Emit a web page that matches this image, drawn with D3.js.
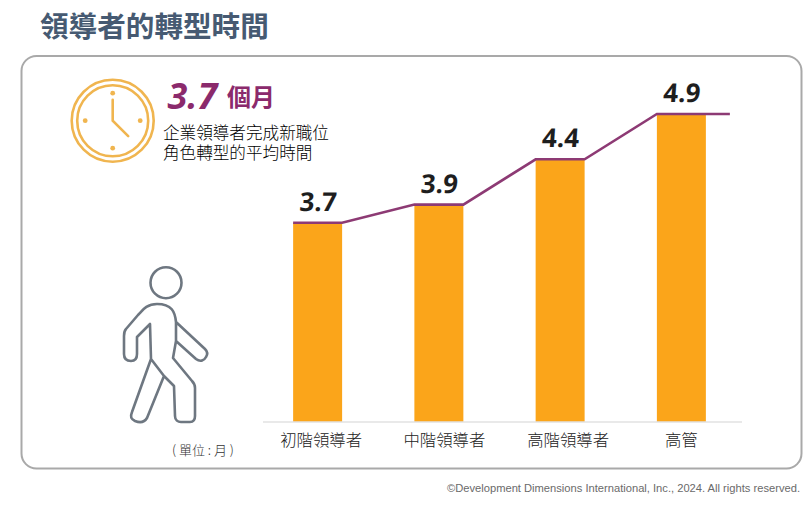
<!doctype html>
<html>
<head>
<meta charset="utf-8"/>
<title>領導者的轉型時間</title>
<script src="https://d3js.org/d3.v7.min.js"></script>
<style>
html, body { margin: 0; padding: 0; background: #fff; }
svg { display: block; }
text { font-family: "Noto Sans CJK TC", "Noto Sans", sans-serif; }
</style>
</head>
<body>
<svg id="svg1" width="812" height="508"></svg>
<script>
const categories = ['初階領導者', '中階領導者', '高階領導者', '高管'];
const values = [3.7, 3.9, 4.4, 4.9];
const desc_lines = ['企業領導者完成新職位', '角色轉型的平均時間'];

const bar_color = '#fba51a';
const line_color = '#8d3a74';
const clock_color = '#f0b54f';
const walker_color = '#6e7781';

const svg = d3.select('#svg1');

function add_text(x, y, str, size, color, weight = 400, anchor = 'start') {
    return svg.append('text')
        .attr('x', x)
        .attr('y', y)
        .attr('text-anchor', anchor)
        .style('font-size', size + 'px')
        .style('font-weight', weight)
        .style('fill', color)
        .text(str);
}

// title and frame
add_text(40, 37, '領導者的轉型時間', 28.6, '#465a72', 700);
svg.append('rect')
    .attr('x', 21.5).attr('y', 56)
    .attr('width', 780).attr('height', 412.5)
    .attr('rx', 15)
    .style('fill', '#fff')
    .style('stroke', '#a9a9a9')
    .style('stroke-width', 2);

// y domain does not start at zero, the original bars are cut off
const x = d3.scaleBand().domain(categories).range([257, 742]).paddingInner(0.596).paddingOuter(0.298);
const y = d3.scaleLinear().domain([1.5, 4.9]).range([422, 114]);

svg.selectAll('rect.bar')
    .data(values)
    .enter().append('rect')
    .attr('class', 'bar')
    .attr('x', (d, i) => x(categories[i]))
    .attr('y', d => y(d))
    .attr('width', x.bandwidth())
    .attr('height', d => y.range()[0] - y(d))
    .style('fill', bar_color);

// axis with the baseline and the category labels
const axis = svg.append('g')
    .attr('transform', 'translate(0,' + y.range()[0] + ')')
    .call(d3.axisBottom(x).tickSize(0).tickPadding(12));
axis.select('.domain')
    .attr('d', 'M263,0H742')   // baseline starts a bit right of the band range, by eye
    .style('stroke', '#e2e2e2')
    .style('stroke-width', 1.5);
// the labels are not quite centred under the bars in the original
const label_nudge = [3.5, 5.5, 8, 0];
axis.selectAll('text')
    .attr('dx', (d, i) => label_nudge[i])
    .style('font-size', '16.4px')
    .style('font-weight', 300)
    .style('fill', '#222');

// trend line runs flat over each bar, then on to the next one
const trend = [];
values.forEach((d, i) => {
    trend.push([x(categories[i]), y(d)]);
    trend.push([x(categories[i]) + x.bandwidth(), y(d)]);
});
trend[trend.length - 1][0] += 24;   // tail after the last bar
svg.append('path')
    .attr('d', d3.line()(trend))
    .style('fill', 'none')
    .style('stroke', line_color)
    .style('stroke-width', 2.6);

svg.selectAll('text.val')
    .data(values)
    .enter().append('text')
    .attr('class', 'val')
    .attr('x', (d, i) => x(categories[i]) + x.bandwidth() / 2)
    .attr('y', d => y(d) - 12)
    .attr('text-anchor', 'middle')
    .attr('transform', (d, i) => {
        let cx = x(categories[i]) + x.bandwidth() / 2, cy = y(d) - 12;
        return 'translate(' + cx + ',' + cy + ') skewX(-4) translate(' + (-cx) + ',' + (-cy) + ')';
    })
    .style('font-family', '"Open Sans", sans-serif')
    .style('font-size', '26px')
    .style('font-weight', 700)
    .style('fill', '#1e1e1e')
    .text(d => d.toFixed(1));

// headline block
add_text(167.5, 109, d3.format('.1f')(values[0]), 36, '#8b2a6c', 700)
    .style('font-family', '"Open Sans", sans-serif')
    .style('font-style', 'italic');
add_text(227, 106, '個月', 24, '#8b2a6c', 700);
const desc = add_text(163, 139, '', 16.6, '#000', 300);
desc.selectAll('tspan')
    .data(desc_lines)
    .enter().append('tspan')
    .attr('x', 163)
    .attr('dy', (d, i) => i ? 20 : 0)
    .text(d => d);

// clock icon
const clock = svg.append('g').attr('transform', 'translate(112.7,120.7)')
    .style('fill', 'none').style('stroke', clock_color);
clock.append('circle').attr('r', 41).style('stroke-width', 2.6);
clock.append('circle').attr('r', 35.5).style('stroke-width', 2.6);
clock.append('path').attr('d', 'M0,-21V0L15.5,15.5')
    .style('stroke-width', 2.6).style('stroke-linecap', 'round');
[[0, -27.5], [27.5, 0], [0, 27.5], [-27.5, 0]].forEach(p => {
    clock.append('circle').attr('cx', p[0]).attr('cy', p[1]).attr('r', 2.4)
        .style('fill', clock_color).style('stroke', 'none');
});

// walking person icon
const walker = svg.append('g')
    .style('fill', 'none')
    .style('stroke', walker_color)
    .style('stroke-width', 2.6)
    .style('stroke-linejoin', 'round');
walker.append('circle').attr('cx', 166).attr('cy', 282.7).attr('r', 15.5);
walker.append('path').attr('d',
    'M157,304 C146,304 142,311 138,315 L126,329 C124,331 124,333 124,336 L124,354 ' +
    'C124,359 127,361 131,361 C135,361 137,358 137,354 L137,337 L150,324 L151,359 ' +
    'L132,412 C130,417 131,419 135,421 C140,423 144,423 147,418 L164,376 ' +
    'L174,386 L175,416 C175,420 178,422 181,422 L190,422 C194,422 195,419 195,416 L195,388 ' +
    'C195,384 194,383 192,381 L173,358 L176,341 L196,359 C200,362 204,361 206,357 C208,354 207,351 205,349 ' +
    'L176,322 C175,312 172,304 157,304 Z ' +
    'M151,359 L164,376 M176,322 L176,341');

add_text(203, 455, '( 單位 : 月 )', 13, '#333', 300, 'middle');

add_text(800, 492, '©Development Dimensions International, Inc., 2024. All rights reserved.', 11.17, '#6a6a6a', 400, 'end')
    .style('font-family', '"Liberation Sans", sans-serif');
</script>
</body>
</html>
